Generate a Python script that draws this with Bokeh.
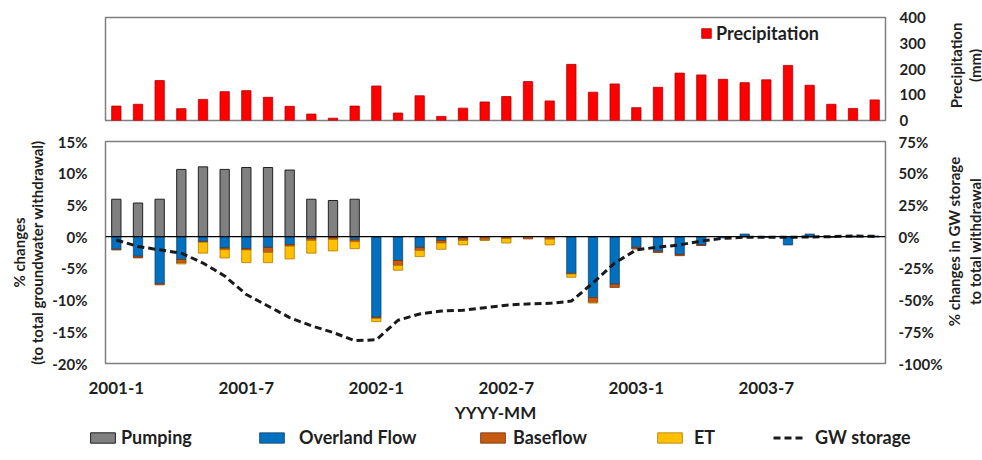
import math

from bokeh.plotting import figure
from bokeh.layouts import column, row
from bokeh.core.properties import value
from bokeh.models import (Range1d, LinearAxis, FixedTicker, Legend, LegendItem,
                          Span, ColumnDataSource, PrintfTickFormatter)
from bokeh.embed import file_html
from bokeh.resources import INLINE

NA = float("nan")   # component absent in that month

# ---- monthly series, 2001-1 .. 2003-12 ----
months = ["2001-1", "2001-2", "2001-3", "2001-4", "2001-5", "2001-6",
          "2001-7", "2001-8", "2001-9", "2001-10", "2001-11", "2001-12",
          "2002-1", "2002-2", "2002-3", "2002-4", "2002-5", "2002-6",
          "2002-7", "2002-8", "2002-9", "2002-10", "2002-11", "2002-12",
          "2003-1", "2003-2", "2003-3", "2003-4", "2003-5", "2003-6",
          "2003-7", "2003-8", "2003-9", "2003-10", "2003-11", "2003-12"]
tick_months = ["2001-1", "2001-7", "2002-1", "2002-7", "2003-1", "2003-7"]

# precipitation (mm)
precip = [56, 63, 155, 46, 82, 112, 116, 90, 55, 25, 9, 56,
          134, 29, 96, 16, 48, 72, 93, 151, 76, 218, 110, 142,
          50, 129, 184, 177, 160, 147, 158, 214, 137, 63, 47, 80]

# % changes relative to total groundwater withdrawal
pumping = [5.9, 5.3, 5.9, 10.6, 11.0, 10.6, 10.9, 10.9, 10.5, 5.9, 5.7, 5.9,
           0, 0, 0, 0, 0, 0, 0, 0, 0, 0, 0, 0,
           0, 0, 0, 0, 0, 0, 0, 0, 0, 0, 0, 0]
overland = [-2.0, -3.1, -7.4, -3.6, -0.75, -1.8, -1.9, -1.7, -1.25, -0.3, -0.15, -0.5,
            -12.7, -3.75, -1.7, -0.6, -0.2, 0.0, 0.0, 0.0, 0.0, -5.8, -9.6, -7.5,
            -1.7, -2.3, -2.8, -1.3, -0.2, 0.4, -0.1, -1.3, 0.4, -0.1, 0.1, 0.1]
baseflow = [-0.1, -0.25, -0.2, -0.55, -0.15, -0.26, -0.2, -0.8, -0.26, -0.3, -0.3, -0.3,
            -0.2, -0.8, -0.5, -0.4, -0.4, -0.5, -0.3, -0.35, -0.4, -0.1, -0.8, -0.5,
            -0.25, -0.2, -0.2, -0.1, NA, NA, NA, NA, NA, NA, NA, NA]
et = [NA, NA, NA, -0.15, -1.7, -1.3, -2.0, -1.6, -2.0, -2.0, -1.8, -1.1,
      -0.5, -0.75, -0.95, -1.0, -0.7, -0.1, -0.7, NA, -0.9, -0.5, -0.05, NA,
      NA, NA, NA, NA, NA, NA, NA, NA, NA, NA, NA, NA]

# % change in GW storage relative to total withdrawal
gw_storage = [-2.6, -7.8, -10.4, -13.0, -20.8, -31.0, -45.6, -54.7, -63.8, -70.3, -75.5, -82.0,
              -81.3, -65.9, -61.0, -58.6, -58.0, -56.0, -54.0, -53.0, -52.6, -50.8, -36.5, -20.8,
              -10.4, -8.3, -6.5, -3.4, -1.3, -0.5, -0.5, -0.5, -0.3, 0.0, 0.5, 0.3]

series_names = ["Pumping", "Overland Flow", "Baseflow", "ET", "GW storage"]

x = list(range(len(months)))
src = ColumnDataSource(dict(x=x, precip=precip, pumping=pumping, overland=overland,
                            baseflow=baseflow, et=et, gw=gw_storage))

FONT = "Lato"
TXT = "#1f1f1f"
FRAME = "#7f7f7f"
BAR_W = 0.43
CHART_W = 945          # chart column; the right-hand titles sit in a strip beside it
TOP_H, BOT_H, KEY_H = 128, 297, 35

PUMP_STYLE = dict(fill_color="#808080", line_color="#202020", line_width=1)
STACK_FILL = ["#0070c0", "#c55a11", "#ffc000"]
STACK_LINE = ["#1d3f66", "#7a3208", "#b07a00"]
GW_STYLE = dict(line_color="#1a1a1a", line_width=3, line_dash="7 4")


def style_axis(ax, size="15px"):
    ax.axis_line_color = None
    ax.major_tick_line_color = None
    ax.minor_tick_line_color = None
    ax.major_tick_out = 0
    ax.major_tick_in = 0
    ax.minor_tick_out = 0
    ax.minor_tick_in = 0
    ax.major_label_text_font = FONT
    ax.major_label_text_font_style = "bold"
    ax.major_label_text_font_size = size
    ax.major_label_text_color = TXT
    ax.axis_label_text_font = FONT
    ax.axis_label_text_font_style = "bold"
    ax.axis_label_text_color = TXT


# ---- precipitation panel ----
top = figure(width=CHART_W, height=TOP_H, x_range=Range1d(-0.5, 35.5), y_range=Range1d(0, 400),
             output_backend="svg", toolbar_location=None, y_axis_location="right",
             min_border_left=105, min_border_right=59, min_border_top=17, min_border_bottom=8)
top.xaxis.visible = False
top.grid.visible = False
top.outline_line_color = FRAME
top.outline_line_width = 1.5
rp = top.vbar(x="x", top="precip", width=BAR_W, source=src,
              fill_color="#ff0000", line_color="#b00000", line_width=0.8)
ty = top.yaxis[0]
ty.ticker = FixedTicker(ticks=[0, 100, 200, 300, 400])
style_axis(ty)
ty.major_label_standoff = 14

top.add_layout(Legend(items=[LegendItem(label="Precipitation", renderers=[rp])],
                      location=(595, 76), padding=0, margin=0, border_line_color=None,
                      background_fill_alpha=0, glyph_width=12, glyph_height=12,
                      label_standoff=4, label_text_font=FONT, label_text_font_style="bold",
                      label_text_font_size="18px", label_text_color=TXT))

# ---- water budget panel ----
bot = figure(width=CHART_W, height=BOT_H, x_range=Range1d(-0.5, 35.5), y_range=Range1d(-20, 15),
             output_backend="svg", toolbar_location=None,
             min_border_left=105, min_border_right=59, min_border_top=13, min_border_bottom=60)
bot.extra_y_ranges = {"gw": Range1d(-100, 75)}
bot.grid.visible = False
bot.outline_line_color = FRAME
bot.outline_line_width = 1.5

bot.vbar(x="x", top="pumping", width=BAR_W, source=src, **PUMP_STYLE)
bot.vbar_stack(["overland", "baseflow", "et"], x="x", width=BAR_W, source=src,
               fill_color=STACK_FILL, line_color=STACK_LINE, line_width=0.8)
bot.add_layout(Span(location=0, dimension="width", line_color="#000000", line_width=1.2))
bot.line(x="x", y="gw", source=src, y_range_name="gw", **GW_STYLE)

yl = bot.yaxis[0]
yl.ticker = FixedTicker(ticks=[-20, -15, -10, -5, 0, 5, 10, 15])
yl.formatter = PrintfTickFormatter(format="%d%%")
style_axis(yl)
yl.major_label_standoff = 18
yl.axis_label = "% changes\n(to total groundwater withdrawal)"
yl.axis_label_text_font_size = "15px"
yl.axis_label_text_line_height = 1.0
yl.axis_label_standoff = 3

yr = LinearAxis(y_range_name="gw", ticker=FixedTicker(ticks=[-100, -75, -50, -25, 0, 25, 50, 75]),
                formatter=PrintfTickFormatter(format="%d%%"))
style_axis(yr)
yr.major_label_standoff = 13
bot.add_layout(yr, "right")

xa = bot.xaxis[0]
xa.ticker = FixedTicker(ticks=[0, 6, 12, 18, 24, 30])
xa.major_label_overrides = {i * 6: lbl for i, lbl in enumerate(tick_months)}
style_axis(xa, "17px")
xa.major_label_standoff = 18
xa.axis_label = "YYYY-MM"
xa.axis_label_text_font_size = "17px"
xa.axis_label_standoff = 5

# ---- right-hand axis titles, reading bottom-to-top ----
side = figure(width=982 - CHART_W, height=TOP_H + BOT_H,
              x_range=Range1d(0, 982 - CHART_W), y_range=Range1d(0, TOP_H + BOT_H),
              output_backend="svg", toolbar_location=None,
              min_border_left=0, min_border_right=0, min_border_top=0, min_border_bottom=0)
side.axis.visible = False
side.grid.visible = False
side.outline_line_color = None
side.text(x=[10, 29, 8, 29], y=[360, 360, 184, 184],
          text=["Precipitation", "(mm)", "% changes in GW storage", "to total withdrawal"],
          angle=math.pi / 2, text_align="center", text_baseline="middle",
          text_font=value(FONT), text_font_style="bold", text_font_size="15px",
          text_color=TXT)

# ---- legend strip under the chart ----
key = figure(width=982, height=KEY_H, x_range=Range1d(0, 1), y_range=Range1d(0, 1),
             output_backend="svg", toolbar_location=None,
             min_border_left=0, min_border_right=0, min_border_top=0, min_border_bottom=0)
key.axis.visible = False
key.grid.visible = False
key.outline_line_color = None
k_pump = key.vbar(x="x", top="pumping", width=BAR_W, source=src, visible=False, **PUMP_STYLE)
k_stack = key.vbar_stack(["overland", "baseflow", "et"], x="x", width=BAR_W, source=src,
                         fill_color=STACK_FILL, line_color=STACK_LINE, line_width=0.8,
                         visible=False)
k_gw = key.line(x="x", y="gw", source=src, visible=False, **GW_STYLE)

key_renderers = [k_pump, k_stack[0], k_stack[1], k_stack[2], k_gw]
key_x = [87, 256, 477, 654, 773]
key_gap = [3, 12, 5, 9, 11]
for name, rend, kx, gap in zip(series_names, key_renderers, key_x, key_gap):
    key.add_layout(Legend(items=[LegendItem(label=name, renderers=[rend])],
                          location=(kx, 12), padding=0, margin=0,
                          border_line_color=None, background_fill_alpha=0,
                          glyph_width=31, glyph_height=13, label_standoff=gap,
                          label_text_font=FONT, label_text_font_style="bold",
                          label_text_font_size="18px", label_text_color=TXT))

chart = row(column(top, bot, spacing=0), side, spacing=0)
open("out.html", "w").write(file_html([chart, key], INLINE))
